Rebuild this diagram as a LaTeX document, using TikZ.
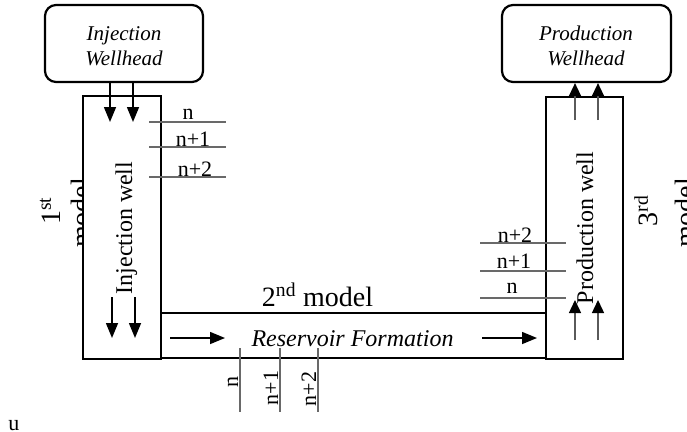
\documentclass[tikz,border=0pt]{standalone}
\usepackage{fontspec}
\setmainfont{Liberation Serif}
\usetikzlibrary{arrows.meta}
\definecolor{layergray}{RGB}{105,105,105}
\definecolor{shaftgray}{RGB}{90,90,90}
\begin{document}
\begin{tikzpicture}[x=1pt,y=-1pt,
  wellbox/.style={draw, line width=2.6pt, fill=white, inner sep=0pt},
  headbox/.style={draw, line width=2.2pt, rounded corners=11pt, fill=white, inner sep=0pt},
  headtxt/.style={align=center, inner sep=0pt, font=\fontsize{21}{25}\selectfont\itshape},
  layer/.style={draw=layergray, line width=1.6pt},
  flow/.style={line width=1.5pt, -{Triangle[length=15pt,width=12pt]}},
  upflow/.style={draw=shaftgray, line width=1.4pt, -{Triangle[length=13pt,width=12pt,color=black]}},
  num/.style={inner sep=0pt, anchor=base, font=\fontsize{22}{24}\selectfont},
  rnum/.style={num, rotate=90},
  modeltxt/.style={inner sep=0pt, anchor=base, rotate=90, font=\fontsize{28}{30}\selectfont},
  welltxt/.style={inner sep=0pt, anchor=base, rotate=90, font=\fontsize{24}{26}\selectfont}
]
\useasboundingbox (0,0) rectangle (687,431);

% model labels partly hidden behind the boxes / page edge
\node[modeltxt] (m1a) at (60,211) {1\textsuperscript{st}};
\node[modeltxt] (m1b) at (90,213) {model};
\node[modeltxt] (m3a) at (657,211) {3\textsuperscript{rd}};
\node[modeltxt] (m3b) at (694,213) {model};

% wellheads
\node[headbox, minimum width=158pt, minimum height=77pt] (ihead) at (124,43.5) {};
\node[headtxt] (iheadt) at (124,46) {Injection\\Wellhead};
\node[headbox, minimum width=169pt, minimum height=77pt] (phead) at (586.5,43.5) {};
\node[headtxt] (pheadt) at (586,45.5) {Production\\Wellhead};

% wells and reservoir
\node[wellbox, minimum width=78pt, minimum height=263pt] (iwell) at (122,227.5) {};
\node[wellbox, minimum width=385pt, minimum height=45pt] (res) at (353.5,335.5) {};
\node[wellbox, minimum width=77pt, minimum height=262pt] (pwell) at (584.5,228) {};

% layer lines
\coordinate (a1) at (149,122); \coordinate (a1e) at (226,122);
\coordinate (a2) at (149,147); \coordinate (a2e) at (226,147);
\coordinate (a3) at (149,177); \coordinate (a3e) at (226,177);
\draw[layer] (a1) -- (a1e); \draw[layer] (a2) -- (a2e); \draw[layer] (a3) -- (a3e);
\node[num] (la1) at (188,119) {n};
\node[num] (la2) at (193,146) {n+1};
\node[num] (la3) at (195,176) {n+2};

\coordinate (b1) at (480,298); \coordinate (b1e) at (566,298);
\coordinate (b2) at (480,271); \coordinate (b2e) at (566,271);
\coordinate (b3) at (480,243); \coordinate (b3e) at (566,243);
\draw[layer] (b1) -- (b1e); \draw[layer] (b2) -- (b2e); \draw[layer] (b3) -- (b3e);
\node[num] (lb1) at (512,293) {n};
\node[num] (lb2) at (514,268) {n+1};
\node[num] (lb3) at (515,242) {n+2};

\coordinate (c1) at (240,348); \coordinate (c1e) at (240,412);
\coordinate (c2) at (280,348); \coordinate (c2e) at (280,412);
\coordinate (c3) at (318,348); \coordinate (c3e) at (318,412);
\draw[layer] (c1) -- (c1e); \draw[layer] (c2) -- (c2e); \draw[layer] (c3) -- (c3e);
\node[rnum] (lc1) at (238,381.5) {n};
\node[rnum] (lc2) at (278,388) {n+1};
\node[rnum] (lc3) at (316,389) {n+2};

% flow arrows
\coordinate (it1) at (110,122); \coordinate (it2) at (133,122);
\draw[flow] (ihead.south -| it1) -- (it1);
\draw[flow] (ihead.south -| it2) -- (it2);
\coordinate (ib1s) at (112,297); \coordinate (ib1) at (112,338);
\coordinate (ib2s) at (135,297); \coordinate (ib2) at (135,338);
\draw[flow] (ib1s) -- (ib1);
\draw[flow] (ib2s) -- (ib2);
\coordinate (r1s) at (170,338); \coordinate (r1) at (225,338);
\coordinate (r2s) at (482,338); \coordinate (r2) at (537,338);
\draw[flow] (r1s) -- (r1);
\draw[flow] (r2s) -- (r2);
\coordinate (pt1) at (575,120); \coordinate (pt2) at (598,120);
\draw[upflow] (pt1) -- (phead.south -| pt1);
\draw[upflow] (pt2) -- (phead.south -| pt2);
\coordinate (pb1s) at (575,340); \coordinate (pb1) at (575,300);
\coordinate (pb2s) at (598,340); \coordinate (pb2) at (598,300);
\draw[upflow] (pb1s) -- (pb1);
\draw[upflow] (pb2s) -- (pb2);

% texts
\node[welltxt] (iwt) at (132,228) {Injection well};
\node[welltxt] (pwt) at (593,228) {Production well};
\node[inner sep=0pt, anchor=base, font=\fontsize{28}{30}\selectfont] (m2) at (317.5,306) {2\textsuperscript{nd} model};
\node[inner sep=0pt, anchor=base, font=\fontsize{24}{26}\selectfont\itshape] (rest) at (352.5,346) {Reservoir Formation};
\node[num] (u) at (14,430) {u};
\end{tikzpicture}
\end{document}
